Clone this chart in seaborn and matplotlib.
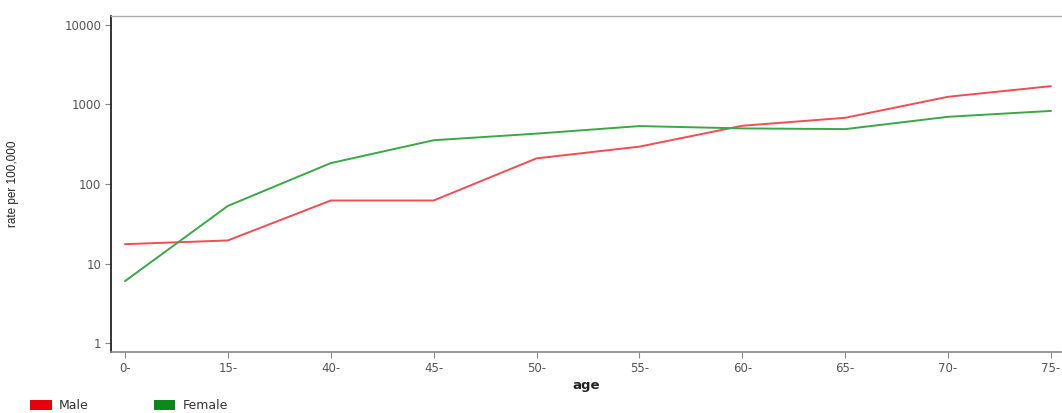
import matplotlib
matplotlib.use("Agg")
import matplotlib.pyplot as plt
from matplotlib.patches import Patch
import seaborn as sns
import pandas as pd

ages = ["0-", "15-", "40-", "45-", "50-", "55-", "60-", "65-", "70-", "75-"]
male = [17.5, 19.5, 62, 62, 210, 295, 540, 680, 1250, 1700]
female = [6, 53, 183, 355, 430, 535, 500, 490, 700, 830]
series = ["Male", "Female"]
colors = {"Male": "#f24c55", "Female": "#3aa846"}
legend_colors = {"Male": "#e8000b", "Female": "#0a8a1a"}

df = pd.DataFrame({
    "age": ages * 2,
    "rate": male + female,
    "sex": ["Male"] * len(ages) + ["Female"] * len(ages),
})

sns.set_style("white")
plt.rcParams['font.family'] = ['DejaVu Sans']

fig = plt.figure(figsize=(10.62, 4.13), dpi=100)
ax = fig.add_axes([0.1045, 0.1477, 0.8945, 0.8136])

sns.lineplot(data=df, x="age", y="rate", hue="sex", palette=colors,
             hue_order=series, ax=ax, linewidth=1.4, legend=False, sort=False)

ax.set_yscale("log")
ax.set_ylim(10 ** -0.113, 10 ** 4.113)
ax.set_xlim(-0.136, 9.097)
ax.set_yticks([1, 10, 100, 1000, 10000])
ax.set_yticklabels(["1", "10", "100", "1000", "10000"])
ax.minorticks_off()
ax.tick_params(axis="y", which="major", length=4, width=0.8, color="#888888",
               labelsize=8.5, labelcolor="#555555", left=True, pad=3)
ax.tick_params(axis="x", which="major", length=4, width=0.8, color="#888888",
               labelsize=8.5, labelcolor="#555555", bottom=True, pad=3)

ax.spines["left"].set_color("#111111")
ax.spines["left"].set_linewidth(1.2)
ax.spines["bottom"].set_color("#888888")
ax.spines["bottom"].set_linewidth(1.2)
ax.spines["top"].set_color("#aaaaaa")
ax.spines["top"].set_linewidth(1.0)
ax.spines["right"].set_visible(False)

ax.set_xlabel("age", fontsize=9.5, fontweight="bold", color="#222222", labelpad=3)
ax.set_ylabel("rate per 100,000", fontsize=8.5, color="#222222",
              family=["Liberation Sans Narrow", "Liberation Sans", "DejaVu Sans"])
ax.yaxis.set_label_coords(-0.097, 0.50)

handles = [Patch(facecolor=legend_colors[s], edgecolor="none", label=s) for s in series]
fig.legend(handles=handles, loc="lower left", bbox_to_anchor=(0.018, -0.025), ncol=2,
           frameon=False, fontsize=9, handlelength=1.7, handleheight=0.8,
           columnspacing=5.2, handletextpad=0.6, labelcolor="#333333")

fig.savefig("out.png", dpi=100)
